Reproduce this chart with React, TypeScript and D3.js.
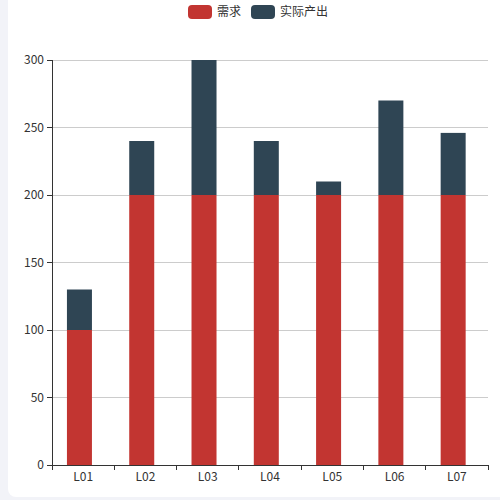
import { useRef, useEffect } from "react";
import * as d3 from "d3";

const categories = ["L01", "L02", "L03", "L04", "L05", "L06", "L07"];
const demand = [100, 200, 200, 200, 200, 200, 200];
const actualExtra = [30, 40, 100, 40, 10, 70, 46];
const yTicks = [0, 50, 100, 150, 200, 250, 300];
const seriesNames = ["需求", "实际产出"];
const seriesColors = ["#c23531", "#2f4554"];

const W = 500;
const H = 500;
const FONT = "'Microsoft YaHei', 'Noto Sans CJK SC', 'Noto Sans', sans-serif";

export default function App() {
  const svgRef = useRef<SVGSVGElement>(null);

  useEffect(() => {
    if (!svgRef.current) return;
    const svg = d3.select(svgRef.current);
    svg.selectAll("*").remove();

    // page + card
    svg.append("rect").attr("width", W).attr("height", H).attr("fill", "#f2f3f8");
    svg.append("rect")
      .attr("x", 8).attr("y", -8).attr("width", W).attr("height", 505)
      .attr("rx", 8).attr("fill", "#fff");

    const margin = { top: 60, right: 12, bottom: 35, left: 52 };
    const innerW = W - margin.left - margin.right;
    const innerH = H - margin.top - margin.bottom;
    const g = svg.append("g").attr("transform", `translate(${margin.left},${margin.top})`);

    const x = d3.scaleBand().domain(categories).range([0, innerW]);
    const y = d3.scaleLinear().domain([0, 300]).range([innerH, 0]);

    // grid
    g.append("g").selectAll("line")
      .data(yTicks.filter((d) => d > 0))
      .join("line")
      .attr("x1", 0).attr("x2", innerW)
      .attr("y1", (d) => y(d)).attr("y2", (d) => y(d))
      .attr("stroke", "#ccc").attr("shape-rendering", "crispEdges");

    // bars
    const barW = 25;
    const shift = -3.7;
    const bx = (c: string) => (x(c) ?? 0) + x.bandwidth() / 2 - barW / 2 + shift;
    const stacks = [demand, actualExtra];
    stacks.forEach((vals, si) => {
      g.append("g").selectAll("rect")
        .data(categories)
        .join("rect")
        .attr("x", (c) => bx(c))
        .attr("width", barW)
        .attr("y", (c, i) => {
          const base = si === 0 ? 0 : demand[i];
          return y(base + vals[i]);
        })
        .attr("height", (c, i) => y(0) - y(vals[i]))
        .attr("fill", seriesColors[si]);
    });

    // x axis
    const xAxis = g.append("g").attr("transform", `translate(0,${innerH})`);
    xAxis.append("line").attr("x1", 0).attr("x2", innerW).attr("stroke", "#333").attr("shape-rendering", "crispEdges");
    const xTickPos = [...categories.map((c) => x(c) ?? 0), innerW];
    xAxis.selectAll("line.tick").data(xTickPos).join("line").attr("class", "tick")
      .attr("x1", (d) => d).attr("x2", (d) => d).attr("y1", 0).attr("y2", 5)
      .attr("stroke", "#333").attr("shape-rendering", "crispEdges");
    xAxis.selectAll("text").data(categories).join("text")
      .attr("x", (c) => (x(c) ?? 0) + x.bandwidth() / 2)
      .attr("y", 16)
      .attr("text-anchor", "middle")
      .attr("fill", "#333").attr("font-family", FONT).attr("font-size", 12)
      .text((c) => c);

    // y axis
    const yAxis = g.append("g");
    yAxis.append("line").attr("x1", 0).attr("x2", 0).attr("y1", 0).attr("y2", innerH)
      .attr("stroke", "#333").attr("shape-rendering", "crispEdges");
    yAxis.selectAll("line.tick").data(yTicks).join("line").attr("class", "tick")
      .attr("x1", -5).attr("x2", 0).attr("y1", (d) => y(d)).attr("y2", (d) => y(d))
      .attr("stroke", "#333").attr("shape-rendering", "crispEdges");
    yAxis.selectAll("text").data(yTicks).join("text")
      .attr("x", -8).attr("y", (d) => y(d))
      .attr("dy", "0.35em").attr("text-anchor", "end")
      .attr("fill", "#333").attr("font-family", FONT).attr("font-size", 12)
      .text((d) => d);

    // legend
    const legend = svg.append("g").attr("transform", "translate(188,5)");
    const itemX = [0, 63];
    seriesNames.forEach((name, i) => {
      const it = legend.append("g").attr("transform", `translate(${itemX[i]},0)`);
      it.append("rect").attr("width", 24).attr("height", 14).attr("rx", 4).attr("fill", seriesColors[i]);
      it.append("text").attr("x", 29).attr("y", 7).attr("dy", "0.35em")
        .attr("fill", "#333").attr("font-family", FONT).attr("font-size", 12)
        .text(name);
    });
  }, []);

  return (
    <div style={{ position: "fixed", left: 0, top: 0, width: W, height: H }}>
      <svg ref={svgRef} width={W} height={H} style={{ display: "block" }} />
    </div>
  );
}
